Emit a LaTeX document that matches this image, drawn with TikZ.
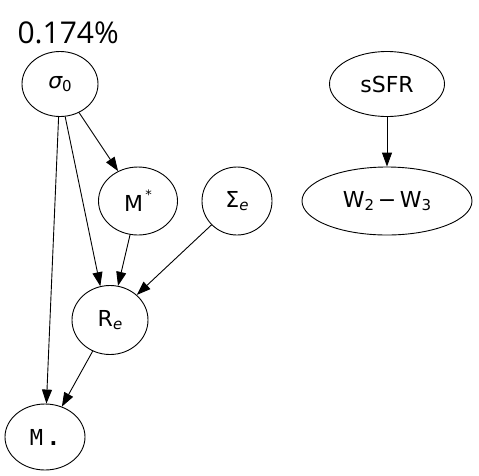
\documentclass[tikz,border=0pt]{standalone}
\usepackage{fontspec}
\setmainfont{DejaVu Sans}
\newfontfamily\labfont{Open Sans}
\newfontfamily\monofnt{DejaVu Sans Mono}
\usetikzlibrary{arrows.meta,shapes.geometric}
\begin{document}
\begin{tikzpicture}[x=1pt,y=-1pt,
  nd/.style={draw,ellipse,line width=0.9pt,inner sep=0pt,font=\fontsize{22}{24}\selectfont},
  arr/.style={line width=0.9pt,-{Triangle[length=14pt,width=10pt]}}]
\useasboundingbox (0,0) rectangle (479,475);
\node[font=\labfont\fontsize{30}{32}\selectfont,anchor=west] (pct) at (14,33) {0.174\%};
\node[nd,minimum width=76pt,minimum height=65pt] (s0) at (60,84) {\itshape σ\upshape\raisebox{-0.3ex}{\fontsize{15}{16}\selectfont 0}};
\node[nd,minimum width=79pt,minimum height=68pt] (Ms) at (138,201) {M\raisebox{1.0ex}{\fontsize{13}{14}\selectfont\,*}};
\node[nd,minimum width=70pt,minimum height=68pt] (Se) at (237,201) {Σ\raisebox{-0.3ex}{\fontsize{15}{16}\selectfont\itshape e}};
\node[nd,minimum width=76pt,minimum height=69pt] (Re) at (110,320) {R\raisebox{-0.3ex}{\fontsize{15}{16}\selectfont\itshape e}};
\node[nd,minimum width=80pt,minimum height=66pt] (Md) at (45,437) {\monofnt M\,\textbf{.}};
\node[nd,minimum width=115pt,minimum height=65pt] (sS) at (387,84) {sSFR};
\node[nd,minimum width=170pt,minimum height=68pt] (W) at (387,201) {W\raisebox{-0.3ex}{\fontsize{15}{16}\selectfont 2}\,−\,W\raisebox{-0.3ex}{\fontsize{15}{16}\selectfont 3}};
\draw[arr] (s0) -- (Ms);
\draw[arr] (s0.-81) -- (Re.106);
\draw[arr] (s0) -- (Md);
\draw[arr] (Ms) -- (Re);
\draw[arr] (Se) -- (Re);
\draw[arr] (Re) -- (Md);
\draw[arr] (sS) -- (W);
\end{tikzpicture}
\end{document}
